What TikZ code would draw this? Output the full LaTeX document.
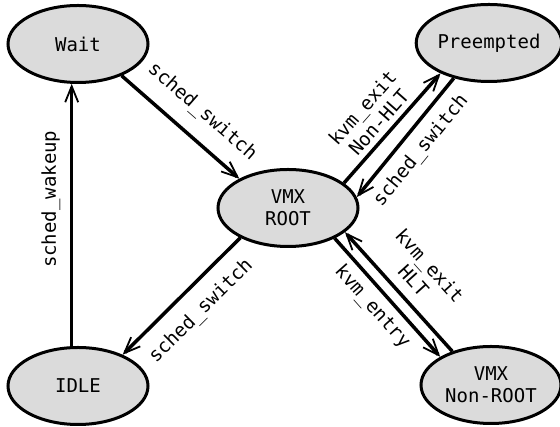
\documentclass[tikz,border=0pt]{standalone}
\usepackage{fontspec}
\setmainfont{DejaVu Sans Mono}
\usetikzlibrary{arrows.meta,shapes.geometric}
\begin{document}
\begin{tikzpicture}[x=1pt,y=1pt,
  state/.style={ellipse, draw, line width=3pt, fill=black!14, minimum width=140pt, minimum height=77pt, inner sep=0pt, font=\fontsize{19}{22}\selectfont, align=center},
  trans/.style={line width=3.5pt, -{Straight Barb[length=16pt,width=13pt,line width=1.8pt]}},
  lbl/.style={sloped, inner sep=0pt, font=\fontsize{19}{22}\selectfont, align=center}]
\useasboundingbox (0,0) rectangle (560,427);
\node[state] (wait) at (78,383) {Wait};
\node[state] (pre) at (489,384) {Preempted};
\node[state] (root) at (288,219) {VMX\\ROOT};
\node[state] (idle) at (78,41) {IDLE};
\node[state] (nonroot) at (491,42) {VMX\\Non-ROOT};

\draw[trans] (wait.-36) -- (root.149) node[lbl, pos=0.54, above=14.5pt] {sched\_switch};
\draw[trans] (idle.99) -- (wait.-99) node[lbl, pos=0.56, above=9.5pt] {sched\_wakeup};
\draw[trans] (root.212) -- (idle.35) node[lbl, pos=0.48, below=13.5pt] {sched\_switch};
\draw[trans] (root.24.5) -- (pre.212.6) node[lbl, pos=0.47, above=5pt] {kvm\_exit\\Non-HLT};
\draw[trans] (pre.225) -- (root.9.3) node[lbl, pos=0.5, below=9.4pt] {sched\_switch};
\draw[trans] (root.-33.7) -- (nonroot.151) node[lbl, pos=0.48, below=6.5pt] {kvm\_entry};
\draw[trans] (nonroot.139) -- (root.-23.7) node[lbl, pos=0.49, above=10pt] {kvm\_exit\\HLT};
\end{tikzpicture}
\end{document}
